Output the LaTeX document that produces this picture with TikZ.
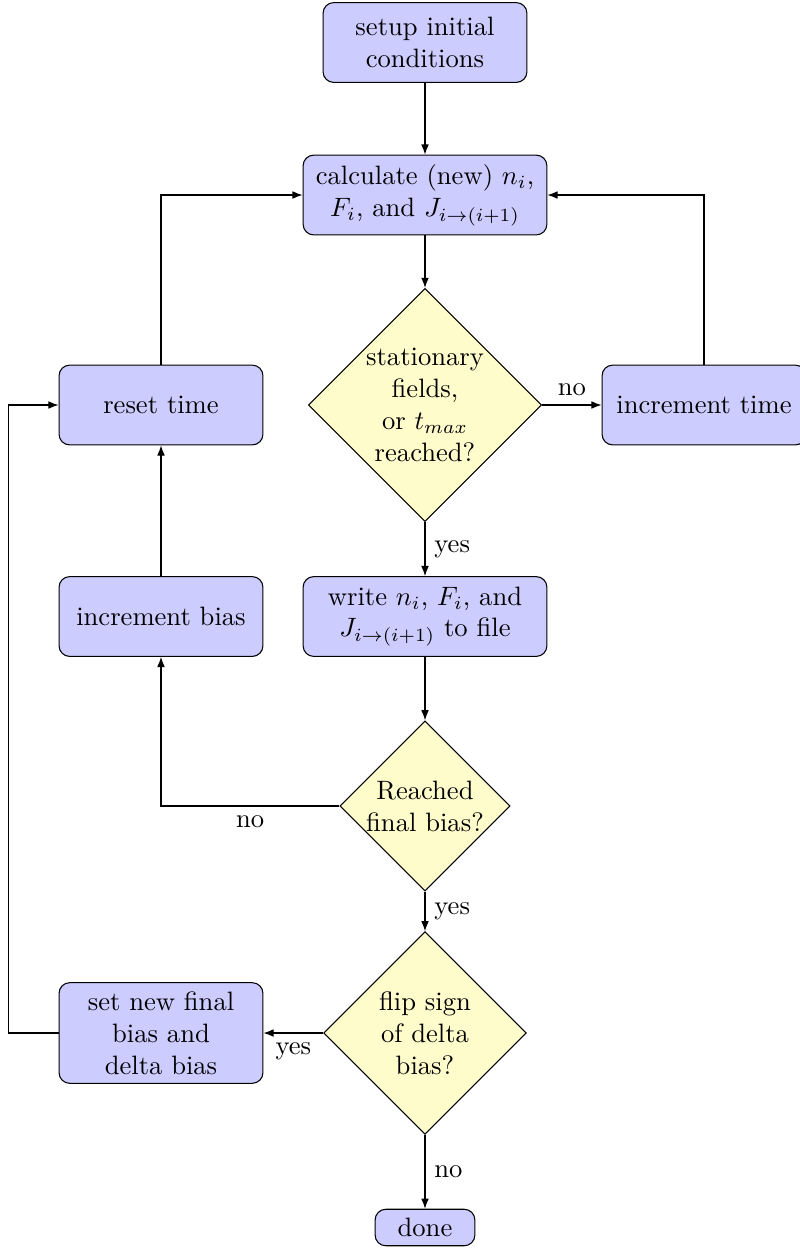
\documentclass[tikz,border=0pt]{standalone}
\usepackage{tikz}
\usetikzlibrary{shapes.geometric,arrows.meta,positioning}
\tikzset{
  block/.style={rectangle,rounded corners=4pt,draw=black,fill=blue!20,
    text width=7em,align=center,minimum height=3em},
  decision/.style={diamond,draw=black,fill=yellow!20,
    text width=4.5em,align=center,inner sep=0pt},
  term/.style={rectangle,rounded corners=4pt,draw=black,fill=blue!20,
    minimum width=3.75em},
  flowline/.style={draw,-{Latex[length=3.8pt,width=2.9pt]}}
}

\begin{document}
\begin{tikzpicture}[x=0.376pt,y=-0.376pt]
\useasboundingbox (0,0) rectangle (799,1249);
% main column
\node[block] (setup) at (425,42.5) {setup initial\\ conditions};
\node[block,text width=8.5em] (calc) at (425,195)
  {calculate (new) $n_i$,\\ $F_i$, and $J_{i\rightarrow(i+1)}$};
\node[decision] (stat) at (425,405) {stationary\\ fields,\\ or $t_{max}$\\ reached?};
\node[block,text width=8.5em] (write) at (425,616.5)
  {write $n_i$, $F_i$, and\\ $J_{i\rightarrow(i+1)}$ to file};
\node[decision] (final) at (425,806) {Reached\\ final bias?};
\node[decision] (flip) at (425,1033) {flip sign\\ of delta\\ bias?};
\node[term] (done) at (425,1227.5) {done};
% side boxes
\node[block] (inctime) at (704,405) {increment time};
\node[block] (reset) at (161,405) {reset time};
\node[block] (incbias) at (161,616.5) {increment bias};
\node[block] (newbias) at (161,1033) {set new final\\ bias and\\ delta bias};

\draw[flowline] (setup) -- (calc);
\draw[flowline] (calc) -- (stat);
\draw[flowline] (stat) -- node[above] {no} (inctime);
\draw[flowline] (inctime) |- (calc);
\draw[flowline] (stat) -- node[right] {yes} (write);
\draw[flowline] (write) -- (final);
\draw[flowline] (final) -| node[below,near start] {no} (incbias);
\draw[flowline] (incbias) -- (reset);
\draw[flowline] (reset) |- (calc);
\draw[flowline] (final) -- node[right] {yes} (flip);
\draw[flowline] (flip) -- node[below] {yes} (newbias);
\draw[flowline] (newbias.west) -- ++(-50,0) |- (reset.west);
\draw[flowline] (flip) -- node[right] {no} (done);
\end{tikzpicture}
\end{document}
